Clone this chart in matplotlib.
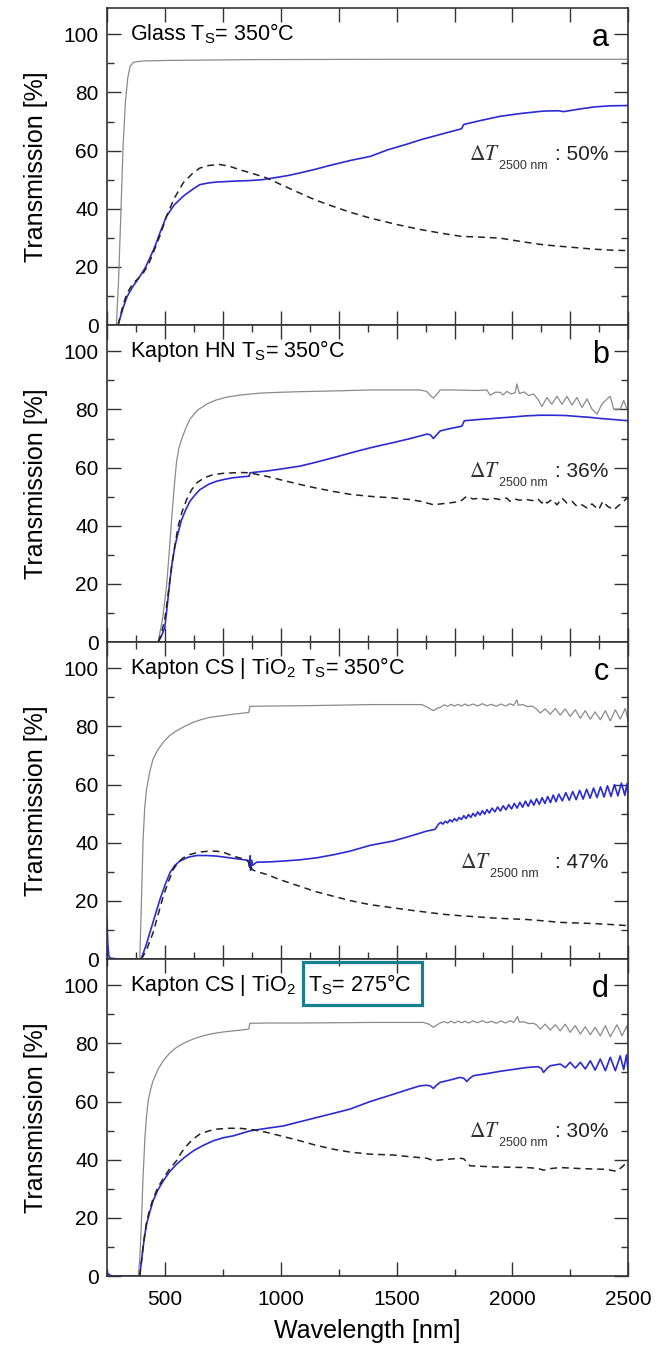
import matplotlib
matplotlib.use("Agg")
import matplotlib.pyplot as plt
from matplotlib.ticker import MultipleLocator, NullLocator
from matplotlib.patches import Rectangle

plt.rcParams['font.family'] = ['Liberation Sans', 'DejaVu Sans']

# ---- panel a : glass, Ts = 350 C ----
a_sub_x = [291, 300, 310, 320, 330, 340, 350, 365, 400, 500, 900, 1500, 2500]
a_sub_y = [0, 15, 38, 62, 77, 85, 89, 90.4, 90.8, 91.0, 91.3, 91.4, 91.4]
a_film_x = [298, 320, 337, 360, 390, 414, 435, 457, 480, 507, 540, 579, 620, 651, 690, 723, 800, 867,
            920, 968, 1030, 1082, 1150, 1227, 1300, 1386, 1463, 1540, 1607, 1700, 1780, 1790, 1860, 1947,
            2040, 2134, 2200, 2220, 2290, 2351, 2420, 2500]
a_film_y = [0, 6, 9.8, 13, 16.5, 19.5, 23, 27, 32, 37.4, 41.3, 44.3, 46.7, 48.3, 48.9, 49.2, 49.5, 49.7,
            50.0, 50.6, 51.4, 52.3, 53.6, 55.2, 56.6, 58.0, 60.3, 62.1, 63.8, 65.8, 67.5, 69.0, 70.3, 71.8,
            72.8, 73.6, 73.7, 73.4, 74.3, 75.0, 75.4, 75.5]
a_bare_x = [298, 320, 337, 363, 385, 406, 430, 449, 480, 507, 540, 579, 620, 651, 690, 738, 780, 824,
            880, 939, 1010, 1082, 1150, 1227, 1300, 1386, 1500, 1607, 1700, 1780, 1850, 1947, 2040, 2134,
            2250, 2351, 2420, 2500]
a_bare_y = [0, 7, 11, 14.4, 16, 17.8, 21, 24.7, 31, 37.4, 43.5, 48.9, 52.2, 54.0, 54.9, 55.2, 54.6, 53.4,
            52.1, 50.6, 48.0, 45.4, 43.0, 40.8, 38.8, 36.8, 34.6, 32.8, 31.5, 30.5, 30.3, 29.9, 28.7, 27.6,
            26.8, 26.1, 25.8, 25.6]

# ---- panel b : Kapton HN, Ts = 350 C ----
b_sub_x = [471, 490, 507, 518, 529, 540, 550, 560, 572, 590, 608, 640, 680, 720, 766, 830, 910, 1000,
           1083, 1250, 1386, 1500, 1601, 1630, 1645, 1659, 1672, 1688, 1750, 1850, 1889, 1904, 1925, 1947,
           1960, 1976, 1995, 2012, 2019, 2030, 2050, 2070, 2091, 2110, 2127, 2149, 2170, 2192, 2214, 2235,
           2257, 2278, 2300, 2322, 2343, 2365, 2386, 2408, 2422, 2437, 2465, 2480, 2494, 2500]
b_sub_y = [0, 8, 19, 30, 42, 53, 61.7, 66.5, 69.7, 73.5, 76.6, 79.7, 81.8, 83.2, 84.2, 85.0, 85.6, 85.9,
           86.1, 86.4, 86.7, 86.7, 86.7, 86.2, 84.8, 83.9, 85.0, 86.7, 86.7, 86.5, 86.7, 84.9, 85.9, 85.9,
           85.0, 86.2, 85.3, 85.8, 88.8, 85.5, 86.0, 84.8, 85.3, 83.5, 81.0, 84.1, 81.8, 84.5, 81.8, 84.5,
           81.5, 84.1, 80.7, 83.6, 80.1, 78.4, 81.8, 83.6, 84.5, 80.1, 80.1, 83.1, 80.1, 80.0]
b_film_x = [471, 485, 500, 511, 522, 532, 543, 557, 572, 590, 608, 630, 651, 690, 723, 760, 795, 830,
            860, 864, 867, 900, 939, 1000, 1083, 1150, 1227, 1300, 1386, 1486, 1560, 1630, 1645, 1659,
            1672, 1688, 1730, 1774, 1782, 1792, 1850, 1918, 2000, 2062, 2120, 2177, 2230, 2278, 2330, 2379,
            2440, 2500]
b_film_y = [0, 2, 5.1, 13, 21.3, 27.5, 32.8, 37.5, 42, 45.5, 48.4, 50.6, 52.4, 54.3, 55.3, 56.0, 56.5, 56.8,
            57.0, 57.0, 58.2, 58.5, 58.8, 59.5, 60.5, 61.8, 63.4, 65.0, 66.8, 68.6, 70.0, 71.5, 71.3, 70.0,
            71.2, 72.6, 73.4, 74.1, 74.3, 76.1, 76.5, 76.9, 77.4, 77.8, 78.0, 78.0, 77.9, 77.6, 77.3, 76.9,
            76.5, 76.1]
b_bare_x = [471, 485, 500, 515, 529, 543, 557, 575, 594, 615, 637, 670, 709, 750, 795, 830, 867, 900,
            939, 1000, 1083, 1150, 1227, 1300, 1386, 1480, 1558, 1610, 1659, 1700, 1774, 1802, 1830, 1860,
            1889, 1918, 1947, 1975, 1990, 2010, 2030, 2062, 2091, 2110, 2127, 2140, 2149, 2170, 2192, 2214,
            2235, 2257, 2278, 2300, 2322, 2343, 2372, 2390, 2410, 2437, 2455, 2480, 2494, 2500]
b_bare_y = [0, 3, 8, 17, 25.9, 33, 39.7, 45, 49, 52.3, 54.7, 56.5, 57.6, 58.0, 58.2, 58.3, 58.2, 57.6,
            57.0, 55.8, 54.2, 53.0, 51.8, 50.8, 50.1, 49.6, 49.0, 48.3, 47.2, 47.6, 48.3, 50.1, 49.2, 49.5,
            49.0, 49.4, 49.0, 49.5, 48.4, 49.2, 48.8, 49.0, 48.6, 49.2, 47.8, 48.8, 47.8, 49.0, 47.2, 49.5,
            47.8, 48.4, 46.7, 47.2, 46.1, 47.5, 45.5, 48.4, 46.7, 45.5, 46.7, 48.4, 49.5, 49.0]

# ---- panel c : Kapton CS | TiO2, Ts = 350 C ----
c_sub_x = [392, 399, 406, 413, 421, 435, 449, 470, 493, 520, 550, 585, 622, 660, 694, 750, 795, 830,
           862, 867, 950, 1083, 1250, 1386, 1500, 1609, 1635, 1659, 1675, 1690, 1705, 1720, 1735, 1750,
           1765, 1780, 1795, 1810, 1830, 1850, 1870, 1890, 1910, 1930, 1950, 1970, 1990, 2005, 2019, 2025,
           2045, 2065, 2085, 2100, 2120, 2141, 2163, 2185, 2206, 2228, 2249, 2271, 2293, 2314, 2336, 2357,
           2379, 2401, 2422, 2444, 2465, 2487, 2500]
c_sub_y = [0, 20, 41, 52, 58.4, 64.5, 68.7, 72.0, 74.5, 76.8, 78.5, 80.0, 81.4, 82.4, 83.1, 83.7, 84.2, 84.5,
           84.8, 86.9, 87.0, 87.1, 87.3, 87.5, 87.5, 87.5, 86.5, 85.4, 86.2, 86.6, 87.4, 86.9, 87.6, 87.0,
           87.6, 87.0, 87.7, 87.1, 87.7, 87.0, 87.8, 87.1, 87.6, 86.9, 87.7, 87.0, 87.8, 87.2, 89.1, 87.3,
           87.5, 86.8, 87.0, 86.2, 84.6, 86.0, 84.2, 86.2, 83.9, 86.0, 83.4, 85.7, 82.8, 85.4, 82.5, 85.0,
           82.3, 85.4, 81.9, 85.7, 82.5, 86.2, 81.4]
c_film_x = [250, 254, 258, 265, 300, 392, 399, 420, 435, 456, 478, 500, 522, 543, 565, 600, 637, 680,
            723, 790, 853, 862, 866, 868, 870, 874, 878, 896, 950, 1011, 1080, 1155, 1230, 1299, 1386, 1486,
            1560, 1630, 1666, 1680,
            1690, 1700, 1710, 1720, 1730, 1740, 1750, 1760, 1770, 1780, 1790, 1800, 1810, 1820, 1830, 1840,
            1850, 1860, 1870, 1880, 1890, 1900, 1912, 1924, 1936, 1948, 1960, 1972, 1984, 1996, 2008, 2020,
            2032, 2044, 2056, 2068, 2080, 2092, 2104, 2116, 2128, 2140, 2152, 2164, 2176, 2188, 2200, 2215,
            2230, 2245, 2260, 2275, 2290, 2305, 2320, 2335, 2350, 2365, 2380, 2395, 2410, 2425, 2440, 2455,
            2470, 2485, 2494, 2498, 2500]
c_film_y = [14, 5, 1, 0.3, 0, 0, 0.3, 5, 9, 14.5, 20.3, 25.3, 29.7, 32.2, 33.7, 35.0, 35.6, 35.6,
            35.4, 34.7, 34.0, 33.8, 31.5, 35.5, 30.5, 34.0, 32.2, 33.3, 33.4, 33.7, 34.1, 34.8, 35.9, 37.1,
            39.1, 40.6, 42.3, 44.0, 44.6, 46.3,
            47.0, 46.4, 47.4, 46.8, 47.9, 47.2, 48.3, 47.5, 48.7, 48.0, 49.3, 48.3, 49.7, 48.7, 50.1, 49.1,
            50.6, 49.5, 51.0, 49.8, 51.4, 50.2, 51.9, 50.6, 52.3, 50.9, 52.7, 51.3, 53.1, 51.6, 53.5, 51.9,
            53.9, 52.2, 54.3, 52.5, 54.7, 52.9, 55.1, 53.2, 55.5, 53.5, 55.9, 53.8, 56.4, 54.1, 56.7, 54.4,
            57.2, 54.6, 57.6, 54.8, 58.0, 55.0, 58.4, 55.3, 58.8, 55.5, 59.2, 55.7, 59.6, 55.9, 60.0, 56.1,
            60.5, 56.3, 60.3, 57.0, 44.0]
c_bare_x = [399, 420, 449, 470, 493, 515, 536, 557, 579, 610, 651, 690, 723, 760, 795, 830, 853, 862,
            867, 872, 880, 900, 939, 1000, 1083, 1150, 1227, 1300, 1386, 1486, 1560, 1630, 1700, 1774, 1850,
            1918, 2000, 2062, 2140, 2206, 2280, 2350, 2420, 2494, 2500]
c_bare_y = [0, 3, 9, 15, 21.6, 26.5, 30.8, 33.2, 34.8, 36.0, 36.8, 37.1, 37.1, 36.5, 35.4, 34.6, 34.0, 33.2,
            30.8, 31.5, 30.6, 30.0, 29.1, 27.2, 25.0, 23.2, 21.6, 20.1, 18.7, 17.6, 16.8, 16.1, 15.4, 14.9,
            14.5, 14.1, 13.8, 13.6, 13.1, 12.6, 12.4, 12.2, 11.9, 11.5, 11.4]

# ---- panel d : Kapton CS | TiO2, Ts = 275 C ----
d_sub_x = [385, 392, 399, 406, 414, 421, 428, 438, 449, 470, 493, 520, 550, 585, 622, 665, 709, 750,
           795, 830, 862, 867, 950, 1083, 1250, 1386, 1500, 1616, 1640, 1659, 1675, 1688, 1705, 1720, 1735,
           1750, 1765, 1780, 1795, 1810, 1830, 1850, 1870, 1890, 1910, 1930, 1950, 1970, 1990, 2005, 2022,
           2030, 2050, 2070, 2091, 2105, 2120, 2141, 2163, 2185, 2206, 2228, 2249, 2271, 2293, 2314, 2336,
           2357, 2379, 2401, 2422, 2451, 2473, 2494, 2500]
d_sub_y = [0, 6, 18.9, 34, 47.6, 55, 60.2, 64, 67.1, 71.0, 74.0, 76.6, 78.6, 80.2, 81.5, 82.6, 83.4, 83.9,
           84.3, 84.6, 84.9, 86.9, 87.0, 87.0, 87.1, 87.2, 87.2, 87.2, 86.6, 85.5, 86.4, 87.0, 87.5, 87.0,
           87.6, 87.0, 87.7, 87.1, 87.6, 87.0, 87.7, 87.1, 87.8, 87.1, 87.6, 86.9, 87.7, 87.0, 87.8, 87.2,
           89.2, 87.3, 87.4, 86.8, 86.9, 86.3, 84.9, 86.6, 84.6, 86.4, 84.3, 86.6, 83.8, 86.1, 83.2, 85.7,
           83.0, 85.5, 82.6, 86.1, 82.3, 86.4, 82.6, 86.1, 81.5]
d_film_x = [255, 265, 280, 390, 392, 399, 406, 413, 421, 435, 449, 470, 493, 520, 550, 585, 622, 665,
            709, 750, 795, 867, 940, 1011, 1080, 1155, 1230, 1299, 1386, 1486, 1560, 1601, 1630, 1645,
            1659, 1672, 1688, 1730, 1774, 1790, 1803, 1816, 1832, 1890, 1947, 2000, 2062, 2110, 2125, 2134,
            2150, 2163, 2185, 2206, 2228, 2249, 2271, 2293, 2314, 2336, 2357, 2379, 2401, 2422, 2444, 2465,
            2480, 2492, 2500]
d_film_y = [0.8, 0.2, 0, 0, 0.5, 5, 9.8, 14, 17.8, 22, 25.8, 29.6, 32.7, 35.8, 38.4, 40.8, 43.0, 44.9,
            46.5, 47.5, 48.2, 49.9, 50.8, 51.6, 53.0, 54.5, 56.0, 57.4, 60.0, 62.5, 64.4, 65.4, 65.6, 65.4,
            64.5, 65.6, 66.6, 67.4, 68.3, 68.0, 66.9, 68.0, 68.9, 69.6, 70.4, 71.0, 71.7, 72.0, 71.4, 70.0,
            71.5, 72.3, 72.6, 72.9, 71.7, 73.5, 71.5, 73.5, 71.2, 74.0, 70.8, 74.6, 70.6, 75.2, 70.6, 75.7,
            71.0, 76.0, 70.0]
d_bare_x = [392, 399, 406, 421, 435, 449, 470, 493, 520, 550, 570, 594, 620, 651, 690, 723, 770, 824,
            880, 939, 1010, 1083, 1150, 1227, 1300, 1386, 1486, 1560, 1630, 1659, 1700, 1774, 1790, 1817,
            1850, 1918, 2000, 2062, 2110, 2134, 2160, 2206, 2280, 2350, 2400, 2430, 2450, 2465, 2480, 2494,
            2500]
d_bare_y = [0, 5, 10, 18.5, 23, 26.5, 30.5, 33.5, 36.8, 39.6, 42.3, 44.8, 47.0, 48.8, 49.9, 50.5, 50.8, 50.8,
            50.3, 49.4, 48.0, 46.5, 45.0, 43.6, 42.6, 41.9, 41.6, 41.0, 40.5, 39.7, 40.0, 40.5, 40.3, 37.9,
            37.8, 37.5, 37.4, 37.3, 37.0, 36.4, 36.9, 37.3, 37.0, 36.8, 36.7, 36.3, 36.0, 37.0, 38.0, 39.6,
            40.0]

titles = ['Glass T$_\\mathregular{S}$= 350°C',
          'Kapton HN T$_\\mathregular{S}$= 350°C',
          'Kapton CS | TiO$_\\mathregular{2}$ T$_\\mathregular{S}$= 350°C',
          'Kapton CS | TiO$_\\mathregular{2}$']
letters = ['a', 'b', 'c', 'd']
delta_vals = ['50%', '36%', '47%', '30%']
delta_y = [56.7, 56.7, 31.4, 47.9]

panels = [(a_sub_x, a_sub_y, a_film_x, a_film_y, a_bare_x, a_bare_y),
          (b_sub_x, b_sub_y, b_film_x, b_film_y, b_bare_x, b_bare_y),
          (c_sub_x, c_sub_y, c_film_x, c_film_y, c_bare_x, c_bare_y),
          (d_sub_x, d_sub_y, d_film_x, d_film_y, d_bare_x, d_bare_y)]

frame = '#333333'
fig, axes = plt.subplots(4, 1, figsize=(6.6, 13.52), dpi=100)
fig.subplots_adjust(left=0.162, right=0.952, top=0.994, bottom=0.0562, hspace=0)

for i, ax in enumerate(axes):
    sx, sy, fx, fy, bx, by = panels[i]
    ax.plot(sx, sy, color='#8a8a8a', lw=0.9)
    ax.plot(fx, fy, color='#2b2bd4', lw=1.2)
    ax.plot(bx, by, color='#222222', lw=1.1, dashes=(4.5, 3.2))

    ax.set_xlim(250, 2500)
    ax.set_ylim(0, 109)
    ax.yaxis.set_major_locator(MultipleLocator(20))
    ax.yaxis.set_minor_locator(MultipleLocator(10))
    if i == 0:
        ax.xaxis.set_major_locator(MultipleLocator(250))
        ax.xaxis.set_minor_locator(NullLocator())
    elif i in (1, 2):
        ax.xaxis.set_major_locator(MultipleLocator(250))
        ax.xaxis.set_minor_locator(MultipleLocator(125))
    else:
        ax.xaxis.set_major_locator(MultipleLocator(500))
        ax.xaxis.set_minor_locator(MultipleLocator(250))
    ax.tick_params(which='both', direction='in', top=True, right=True, color=frame, width=1.0)
    ax.tick_params(which='major', length=10, labelsize=15, pad=6)
    ax.tick_params(which='minor', length=5)
    ax.tick_params(axis='x', which='major', pad=10)
    if i < 3:
        ax.tick_params(labelbottom=False)
    for sp in ax.spines.values():
        sp.set_color(frame)
        sp.set_linewidth(1.2)
    ax.set_ylabel('Transmission [%]', fontsize=18, labelpad=11)

    ax.text(0.044, 98, titles[i], transform=ax.get_yaxis_transform(), fontsize=15.5, va='baseline')
    ax.text(0.962, 96, letters[i], transform=ax.get_yaxis_transform(), fontsize=22,
            ha='right', va='baseline')

    # Delta T annotation: symbol, subscript right after it, value right-aligned
    dx = 0.678 if i == 2 else 0.694
    td = ax.text(dx, delta_y[i], r'$\Delta T$', transform=ax.get_yaxis_transform(), fontsize=15.5,
                 math_fontfamily='stix', color='#333333', va='baseline')
    ax.annotate('2500 nm', xy=(1, 0), xycoords=td, xytext=(-1, -3), textcoords='offset points',
                fontsize=9, va='baseline', color='#333333')
    ax.text(0.962, delta_y[i], ': ' + delta_vals[i], transform=ax.get_yaxis_transform(), fontsize=15,
            ha='right', va='baseline', color='#222222')

axes[3].text(0.386, 98, 'T$_\\mathregular{S}$= 275°C',
             transform=axes[3].get_yaxis_transform(), fontsize=15.5, va='baseline')
axes[3].add_patch(Rectangle((0.3756, 0.855), 0.2284, 0.1356, transform=axes[3].transAxes,
                            fill=False, edgecolor='#17808c', lw=2.3, clip_on=False, zorder=5))
axes[3].set_xlabel('Wavelength [nm]', fontsize=18, labelpad=7)

fig.savefig('out.png', dpi=100)
